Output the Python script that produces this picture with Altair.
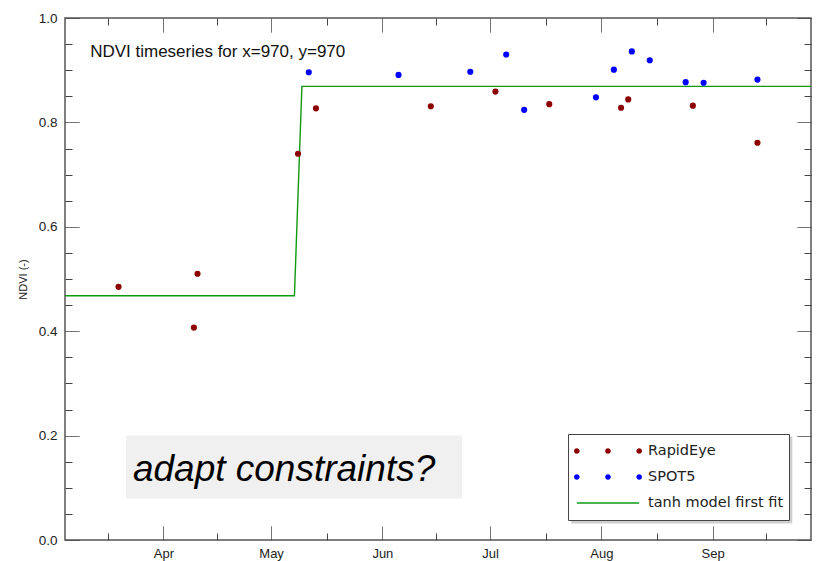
import altair as alt
import pandas as pd

# ---------------- data ----------------
rapideye_dates = ["2011-03-19T12:00", "2011-04-09T12:00", "2011-04-10T12:00", "2011-05-08T12:00",
                  "2011-05-13T12:00", "2011-06-14T12:00", "2011-07-02T12:00", "2011-07-17T12:00",
                  "2011-08-06T12:00", "2011-08-08T12:00", "2011-08-26T12:00", "2011-09-13T12:00"]
rapideye_ndvi = [0.485, 0.407, 0.510, 0.740, 0.827, 0.831, 0.859, 0.835, 0.828, 0.844, 0.832, 0.761]

spot5_dates = ["2011-05-11T12:00", "2011-06-05T12:00", "2011-06-25T12:00", "2011-07-05T12:00",
               "2011-07-10T12:00", "2011-07-30T12:00", "2011-08-04T12:00", "2011-08-09T12:00",
               "2011-08-14T12:00", "2011-08-24T12:00", "2011-08-29T12:00", "2011-09-13T12:00"]
spot5_ndvi = [0.896, 0.891, 0.897, 0.930, 0.824, 0.848, 0.901, 0.936, 0.919, 0.877, 0.876, 0.882]

fit_dates = ["2011-03-04T14:00", "2011-05-07T12:00", "2011-05-09T14:00", "2011-09-28T10:00"]
fit_ndvi = [0.468, 0.468, 0.869, 0.869]

series_names = ["RapidEye", "SPOT5", "tanh model first fit"]
series_colors = ["#8c0000", "#0000ff", "#119a11"]

x_domain = ["2011-03-04T14:00", "2011-09-28T10:00"]
major_ticks = ["2011-04-01", "2011-05-01", "2011-06-01", "2011-07-01", "2011-08-01", "2011-09-01"]
minor_ticks = ["2011-03-16T12:00", "2011-04-16", "2011-05-16T12:00", "2011-06-16",
               "2011-07-16T12:00", "2011-08-16T12:00", "2011-09-16"]
month_labels = ["Apr", "May", "Jun", "Jul", "Aug", "Sep"]
y_ticks = [round(i * 0.05, 2) for i in range(21)]

title_text = "NDVI timeseries for x=970, y=970"
note_text = "adapt constraints?"


def dt(s):
    ts = pd.Timestamp(s)
    return alt.DateTime(year=ts.year, month=ts.month, date=ts.day, hours=ts.hour, minutes=ts.minute)


# ---------------- tables ----------------
points = pd.DataFrame({
    "date": rapideye_dates + spot5_dates,
    "ndvi": rapideye_ndvi + spot5_ndvi,
    "series": ["RapidEye"] * len(rapideye_dates) + ["SPOT5"] * len(spot5_dates),
})
fit = pd.DataFrame({"date": fit_dates, "ndvi": fit_ndvi})
note_box = pd.DataFrame({"d1": ["2011-03-21T14:00"], "d2": ["2011-06-23T05:00"], "y1": [0.200], "y2": [0.0795]})
legend_shadow = pd.DataFrame({"d1": ["2011-07-23T15:00"], "d2": ["2011-09-23T05:00"], "y1": [0.1982], "y2": [0.0316]})
note = pd.DataFrame({"date": ["2011-03-23T12:00"], "ndvi": [0.1126], "text": [note_text]})
title_df = pd.DataFrame({"date": ["2011-03-11T14:00"], "ndvi": [0.925], "text": [title_text]})

# ---------------- scales & axes ----------------
x_scale = alt.Scale(domain=[dt(x_domain[0]), dt(x_domain[1])], nice=False)
y_scale = alt.Scale(domain=[0, 1], nice=False, zero=False)

x_values = [dt(s) for s in sorted(major_ticks + minor_ticks)]
label_list = "[" + ",".join(["''"] * 3 + ["'%s'" % m for m in month_labels] + ["''"] * 3) + "]"
x_label_expr = "date(datum.value) == 1 ? %s[month(datum.value)] : ''" % label_list
x_dash = {"condition": {"test": "date(datum.value) != 1", "value": [0, 7, 7]}, "value": [1, 0]}
y_minor_test = "abs(datum.value * 5 - round(datum.value * 5)) > 0.01"
y_dash = {"condition": {"test": y_minor_test, "value": [0, 7, 7]}, "value": [1, 0]}

FONT = "Liberation Sans"
tick_style = dict(tickSize=14, tickColor="#444", tickWidth=1, offset=-14, domain=False, grid=False)

x_axis_bottom = alt.Axis(orient="bottom", values=x_values, labelExpr=x_label_expr, tickDash=x_dash,
                         labelPadding=7, labelFont=FONT, labelFontSize=13, labelColor="#222",
                         labelFlush=False, labelOverlap=False, title=None, **tick_style)
x_axis_top = alt.Axis(orient="top", values=x_values, tickDash=x_dash, labels=False, title=None, **tick_style)
y_axis_left = alt.Axis(orient="left", values=y_ticks,
                       labelExpr="abs(datum.value * 5 - round(datum.value * 5)) < 0.01 ? format(datum.value, '.1f') : ''",
                       tickDash=y_dash, labelPadding=8, labelFont=FONT, labelFontSize=13.5, labelColor="#222",
                       labelFlush=False, labelOverlap=False,
                       title="NDVI (-)", titleFont=FONT, titleFontSize=11, titleFontWeight="normal",
                       titleColor="#222", titlePadding=10, **tick_style)
y_axis_right = alt.Axis(orient="right", values=y_ticks, tickDash=y_dash, labels=False, title=None, **tick_style)


def X(field, axis):
    return alt.X(field, type="temporal", scale=x_scale, axis=axis, title=None)


def Y(field, axis):
    return alt.Y(field, type="quantitative", scale=y_scale, axis=axis)


# ---------------- background layer (boxes, texts, fit line) ----------------
box = alt.Chart(note_box).mark_rect(color="#f0f0f0").encode(
    x=X("d1", x_axis_bottom), x2="d2:T", y=Y("y1", y_axis_left), y2="y2")

shadow = alt.Chart(legend_shadow).mark_rect(color="#cfcfcf").encode(
    x=X("d1", x_axis_bottom), x2="d2:T", y=Y("y1", y_axis_left), y2="y2")

note_mark = alt.Chart(note).mark_text(align="left", baseline="alphabetic", font=FONT,
                                      fontStyle="italic", fontSize=37, color="#000").encode(
    x=X("date", x_axis_bottom), y=Y("ndvi", y_axis_left), text="text:N")

title_mark = alt.Chart(title_df).mark_text(align="left", baseline="alphabetic", font=FONT,
                                           fontSize=17, color="#111").encode(
    x=X("date", x_axis_bottom), y=Y("ndvi", y_axis_left), text="text:N")

fit_line = alt.Chart(fit).mark_line(color=series_colors[2], strokeWidth=1.4).encode(
    x=X("date", x_axis_bottom), y=Y("ndvi", y_axis_left))

background = alt.layer(box, shadow, note_mark, title_mark, fit_line)

# ---------------- points with legend ----------------
dots_path = ("M-1,0a0.083,0.083 0 1,0 0.166,0a0.083,0.083 0 1,0 -0.166,0Z"
             "M-0.083,0a0.083,0.083 0 1,0 0.166,0a0.083,0.083 0 1,0 -0.166,0Z"
             "M0.834,0a0.083,0.083 0 1,0 0.166,0a0.083,0.083 0 1,0 -0.166,0Z")
line_path = "M-0.917,0L0.917,0"
legend = alt.Legend(
    title=None, orient="none", legendX=503, legendY=416, direction="vertical",
    fillColor="white", strokeColor="#444", padding=5,
    symbolType=alt.ExprRef(expr="datum.value == '%s' ? '%s' : '%s'" % (series_names[2], line_path, dots_path)),
    symbolStrokeColor=alt.ExprRef(expr="datum.value == '%s' ? '%s' : 'transparent'" % (series_names[2], series_colors[2])),
    symbolStrokeWidth=1.5, symbolSize=4624, symbolOpacity=1, clipHeight=24, rowPadding=2,
    labelOffset=5, labelFont="DejaVu Sans", labelFontSize=14.5, labelColor="#222",
)

dots = alt.Chart(points).mark_circle(size=38, opacity=1).encode(
    x=X("date", x_axis_top), y=Y("ndvi", y_axis_right),
    color=alt.Color("series:N", scale=alt.Scale(domain=series_names, range=series_colors), legend=legend),
)

chart = alt.layer(background, dots).resolve_scale(x="independent", y="independent").properties(
    width=746, height=522, autosize="none",
    padding={"left": 65, "top": 18, "right": 8, "bottom": 21},
).configure_view(stroke="#555", strokeWidth=1.5)

chart.save("out.html", embed_options={"renderer": "svg", "actions": False})
